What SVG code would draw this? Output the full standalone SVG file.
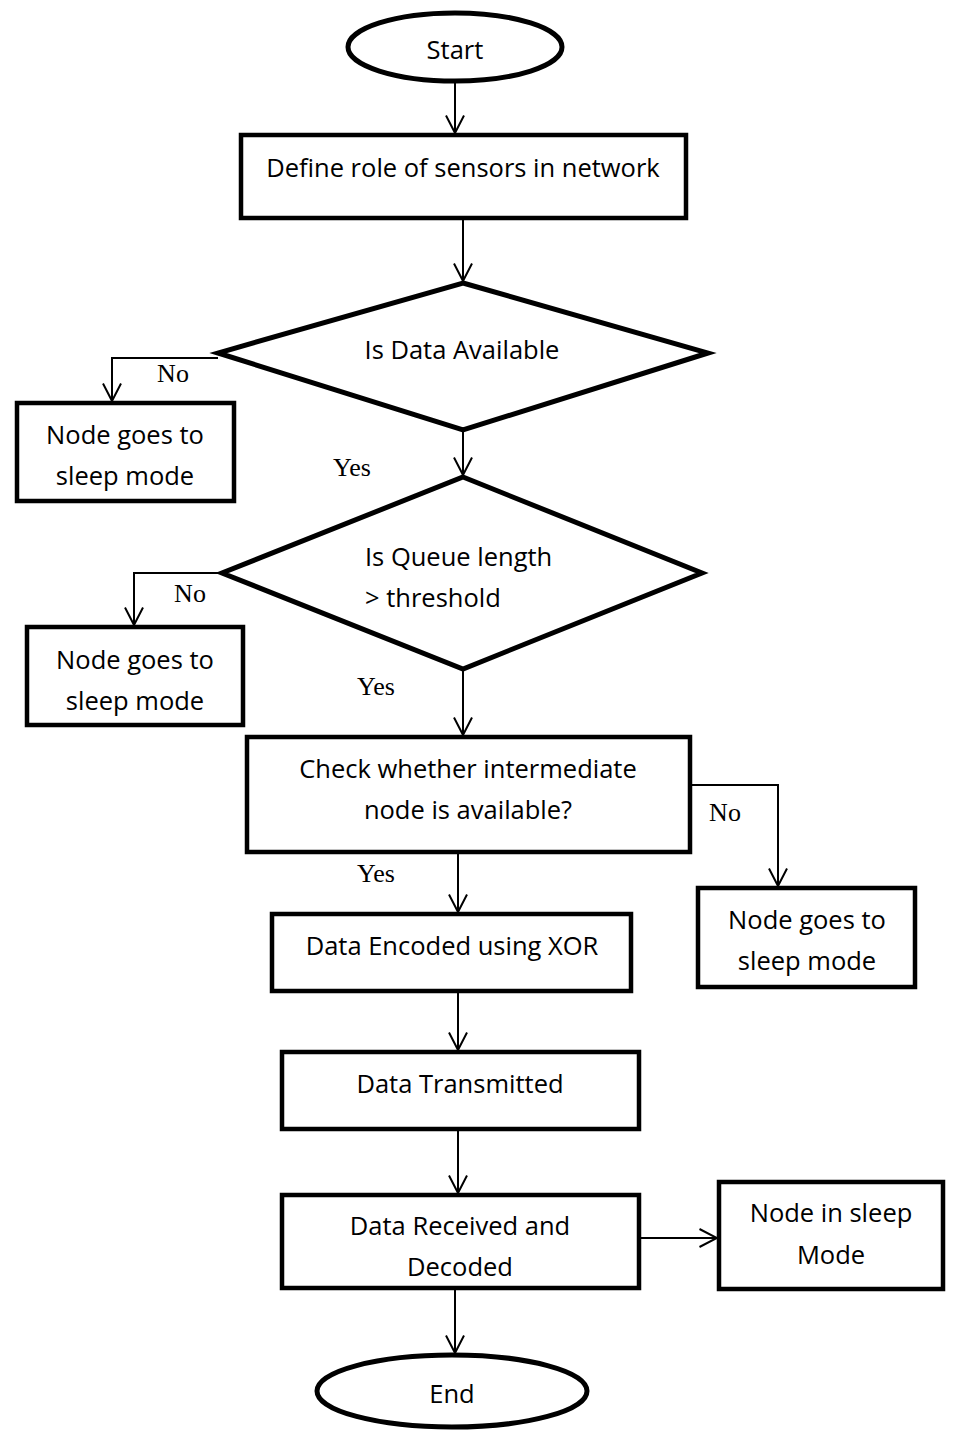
<svg xmlns="http://www.w3.org/2000/svg" width="955" height="1430" viewBox="0 0 955 1430">
<defs>
<marker id="arr" viewBox="0 0 20 20" refX="18.5" refY="10" markerWidth="20" markerHeight="20" markerUnits="userSpaceOnUse" orient="auto">
<path d="M1,1 L18.5,10 L1,19" fill="none" stroke="#000" stroke-width="2"/>
</marker>
<style>
.box{fill:#fff;stroke:#000;stroke-width:4.5}
.dia{fill:#fff;stroke:#000;stroke-width:5;stroke-linejoin:miter}
.ell{fill:#fff;stroke:#000;stroke-width:5}
.t{font-family:"Open Sans","Liberation Sans",sans-serif;font-size:25.5px;fill:#000;text-anchor:middle}
.s{text-anchor:start}
.l{font-family:"Liberation Serif",serif;font-size:26px;fill:#000;text-anchor:middle}
.c{fill:none;stroke:#000;stroke-width:2;marker-end:url(#arr)}
</style>
</defs>
<rect width="955" height="1430" fill="#fff"/>
<g id="connectors">
<path class="c" d="M455,82 L455,133"/>
<path class="c" d="M463,218 L463,281"/>
<path class="c" d="M218,358 L112,358 L112,401"/>
<path class="c" d="M463,430 L463,475"/>
<path class="c" d="M222,573 L134,573 L134,625"/>
<path class="c" d="M463,669 L463,735"/>
<path class="c" d="M690,785 L778,785 L778,886"/>
<path class="c" d="M458,852 L458,912"/>
<path class="c" d="M458,990 L458,1050"/>
<path class="c" d="M458,1129 L458,1193"/>
<path class="c" d="M639,1238 L717,1238"/>
<path class="c" d="M455,1288 L455,1353"/>
<text class="l" x="173" y="382">No</text>
<text class="l" x="352" y="476">Yes</text>
<text class="l" x="190" y="602">No</text>
<text class="l" x="376" y="695">Yes</text>
<text class="l" x="725" y="821">No</text>
<text class="l" x="376" y="882">Yes</text>
</g>
<g id="start">
<ellipse class="ell" cx="455" cy="47" rx="107" ry="34"/>
<text class="t" x="455" y="59">Start</text>
</g>
<g id="define">
<rect class="box" x="241" y="135" width="445" height="83"/>
<text class="t" x="463" y="177">Define role of sensors in network</text>
</g>
<g id="dataAvail">
<polygon class="dia" points="463,283 708,353 463,430 218,353"/>
<text class="t" x="462" y="359">Is Data Available</text>
</g>
<g id="sleep1">
<rect class="box" x="17" y="403" width="217" height="98"/>
<text class="t" x="125" y="444">Node goes to</text>
<text class="t" x="125" y="485">sleep mode</text>
</g>
<g id="queue">
<polygon class="dia" points="463,477 702,573 463,669 222,573"/>
<text class="t s" x="365" y="566">Is Queue length</text>
<text class="t s" x="365" y="607">&gt; threshold</text>
</g>
<g id="sleep2">
<rect class="box" x="27" y="627" width="216" height="98"/>
<text class="t" x="135" y="669">Node goes to</text>
<text class="t" x="135" y="710">sleep mode</text>
</g>
<g id="check">
<rect class="box" x="247" y="737" width="443" height="115"/>
<text class="t" x="468" y="778">Check whether intermediate</text>
<text class="t" x="468" y="819">node is available?</text>
</g>
<g id="sleep3">
<rect class="box" x="698" y="888" width="217" height="99"/>
<text class="t" x="807" y="929">Node goes to</text>
<text class="t" x="807" y="970">sleep mode</text>
</g>
<g id="encode">
<rect class="box" x="272" y="914" width="359" height="77"/>
<text class="t" x="452" y="955">Data Encoded using XOR</text>
</g>
<g id="transmit">
<rect class="box" x="282" y="1052" width="357" height="77"/>
<text class="t" x="460" y="1093">Data Transmitted</text>
</g>
<g id="receive">
<rect class="box" x="282" y="1195" width="357" height="93"/>
<text class="t" x="460" y="1235">Data Received and</text>
<text class="t" x="460" y="1276">Decoded</text>
</g>
<g id="sleep4">
<rect class="box" x="719" y="1182" width="224" height="107"/>
<text class="t" x="831" y="1222">Node in sleep</text>
<text class="t" x="831" y="1264">Mode</text>
</g>
<g id="end">
<ellipse class="ell" cx="452" cy="1391" rx="135" ry="36"/>
<text class="t" x="452" y="1403">End</text>
</g>
</svg>
